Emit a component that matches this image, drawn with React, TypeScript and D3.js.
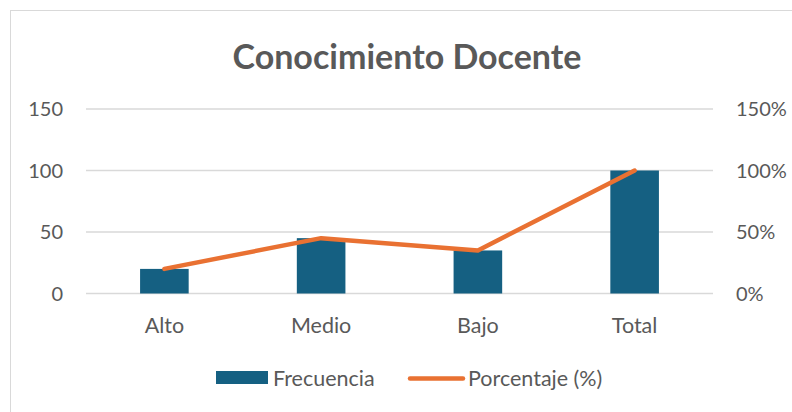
import React from 'react'
import * as d3 from 'd3'

const categories = ['Alto', 'Medio', 'Bajo', 'Total']
const frecuencia = [20, 45, 35, 100]
const porcentaje = [0.2, 0.45, 0.35, 1.0]
const leftTicks = [0, 50, 100, 150]
const rightTicks = [0, 0.5, 1, 1.5]

const W = 792
const H = 412
const margin = { top: 109, right: 79, bottom: 118.5, left: 86 }

const BAR = '#156082'
const LINE = '#E97132'
const TEXT = '#595959'
const GRID = '#d9d9d9'
const FONT = 'Lato, "Open Sans", sans-serif'

const App = () => {
	const x = d3
		.scaleBand()
		.domain(categories)
		.range([margin.left, W - margin.right])
		.paddingInner(0.69)
		.paddingOuter(0.345)

	const y = d3
		.scaleLinear()
		.domain([0, 150])
		.range([H - margin.bottom, margin.top])

	const y2 = d3
		.scaleLinear()
		.domain([0, 1.5])
		.range([H - margin.bottom, margin.top])

	const line = d3
		.line<number>()
		.x((_, i) => x(categories[i])! + x.bandwidth() / 2)
		.y(d => y2(d))

	const pct = d3.format('.0%')

	return (
		<svg width={W} height={H} style={{ position: 'absolute', left: 0, top: 0, fontFamily: FONT }}>
			<rect x={0} y={0} width={W} height={H} fill="#fff" />
			<rect x={10.5} y={10.5} width={W + 10} height={H + 10} fill="none" stroke={GRID} strokeWidth={1} />

			<text x={407} y={69} textAnchor="middle" fontSize={34} fontWeight="bold" fill={TEXT}>
				Conocimiento Docente
			</text>

			{/* líneas de la cuadrícula */}
			{leftTicks.map(t => (
				<line key={t} x1={margin.left} x2={W - margin.right} y1={y(t)} y2={y(t)} stroke={GRID} strokeWidth={1.3} />
			))}

			{/* eje izquierdo */}
			{leftTicks.map(t => (
				<text key={t} x={63} y={y(t)} dy="0.36em" textAnchor="end" fontSize={20} fill={TEXT}>
					{t}
				</text>
			))}

			{/* eje derecho */}
			{rightTicks.map(t => (
				<text key={t} x={736} y={y2(t)} dy="0.36em" textAnchor="start" fontSize={20} fill={TEXT}>
					{pct(t)}
				</text>
			))}

			{/* barras */}
			{frecuencia.map((v, i) => (
				<rect
					key={categories[i]}
					x={x(categories[i])}
					y={y(v)}
					width={x.bandwidth()}
					height={y(0) - y(v)}
					fill={BAR}
				/>
			))}

			<path d={line(porcentaje)!} fill="none" stroke={LINE} strokeWidth={4.5} strokeLinecap="round" strokeLinejoin="round" />

			{/* etiquetas de categorías */}
			{categories.map(c => (
				<text key={c} x={x(c)! + x.bandwidth() / 2} y={333} textAnchor="middle" fontSize={21.5} fill={TEXT}>
					{c}
				</text>
			))}

			{/* leyenda */}
			<rect x={216} y={371} width={52} height={13} fill={BAR} />
			<text x={273} y={385.5} fontSize={21.5} fill={TEXT}>
				Frecuencia
			</text>
			<line x1={410} x2={463} y1={378.5} y2={378.5} stroke={LINE} strokeWidth={4.5} strokeLinecap="round" />
			<text x={468} y={385.5} fontSize={21.5} fill={TEXT}>
				Porcentaje (%)
			</text>
		</svg>
	)
}

export default App
